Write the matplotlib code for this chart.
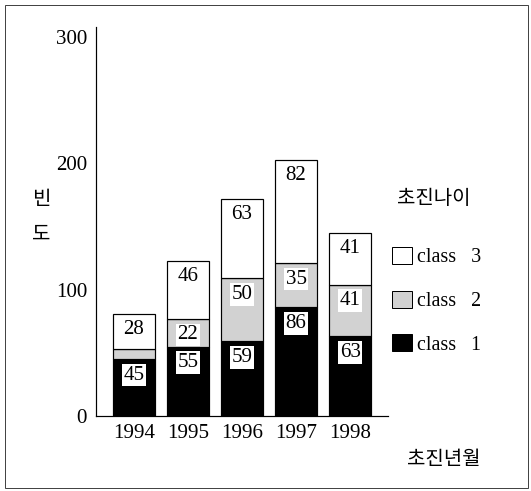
import numpy as np
import matplotlib
matplotlib.use('Agg')
import matplotlib.pyplot as plt
from matplotlib.patches import Patch, Rectangle

# fonts: serif for numbers, CJK for the Korean labels
plt.rcParams['font.family'] = ['Liberation Serif', 'Noto Sans CJK KR']

# data
years = ['1994', '1995', '1996', '1997', '1998']
class1 = [45, 55, 59, 86, 63]
class2 = [8, 22, 50, 35, 41]
class3 = [28, 46, 63, 82, 41]
legend_labels = ['class   3', 'class   2', 'class   1']
y_ticks = [0, 100, 200, 300]

gray = '#d2d2d2'
kr = 'Noto Sans CJK KR'

# dpi 72 so that points == pixels
fig = plt.figure(figsize=(531 / 72, 491 / 72), dpi=72)
ax = fig.add_axes([96 / 531, 75 / 491, 292 / 531, 389 / 491])

x = np.arange(len(years))
width = 0.77
bottom2 = np.array(class1)
bottom3 = bottom2 + np.array(class2)

b1 = ax.bar(x, class1, width, color='black', edgecolor='black', linewidth=1.2)
b2 = ax.bar(x, class2, width, bottom=bottom2, color=gray, edgecolor='black', linewidth=1.2)
b3 = ax.bar(x, class3, width, bottom=bottom3, color='white', edgecolor='black', linewidth=1.2)

# value labels in white boxes, just below the top of each segment
for bars, vals in [(b1, class1), (b2, class2), (b3, class3)]:
    for rect, v in zip(bars, vals):
        if v < 10:
            continue  # too thin to label (1994 class 2)
        ax.annotate(str(v), (rect.get_x() + rect.get_width() / 2, rect.get_y() + rect.get_height()),
                    xytext=(0, -16), textcoords='offset points', ha='center', va='center',
                    fontsize=21,
                    bbox=dict(boxstyle='square,pad=0.08', fc='white', ec='none'))

ax.set_xlim(-0.7, 4.7)
ax.set_ylim(0, 308)
ax.set_yticks(y_ticks)
ax.set_xticks(x, years)
ax.tick_params(axis='both', length=0, labelsize=21)
ax.tick_params(axis='y', pad=9)
ax.tick_params(axis='x', pad=8)
for s in ['top', 'right']:
    ax.spines[s].set_visible(False)
for s in ['left', 'bottom']:
    ax.spines[s].set_linewidth(1.2)

# y axis title written vertically
fig.text(41 / 531, 1 - 200 / 491, '빈', family=kr, fontsize=20, ha='center', va='center')
fig.text(41 / 531, 1 - 234 / 491, '도', family=kr, fontsize=20, ha='center', va='center')
# x axis title
fig.text(444 / 531, 1 - 460 / 491, '초진년월', family=kr, fontsize=20, ha='center', va='center')

# legend
fig.text(434 / 531, 1 - 199 / 491, '초진나이', family=kr, fontsize=20, ha='center', va='center')
handles = [Patch(fc='white', ec='black'), Patch(fc=gray, ec='black'), Patch(fc='black', ec='black')]
fig.legend(handles, legend_labels, loc='upper left', bbox_to_anchor=(392 / 531, 1 - 247 / 491),
           frameon=False, prop={'size': 20}, handlelength=1.0, handleheight=0.95,
           handletextpad=0.25, labelspacing=1.15, borderpad=0, borderaxespad=0)

# outer frame
fig.patches.append(Rectangle((5 / 531, 3 / 491), 523 / 531, 483 / 491, transform=fig.transFigure,
                             fill=False, edgecolor='#444444', linewidth=1))

fig.savefig('out.png', dpi=72)
